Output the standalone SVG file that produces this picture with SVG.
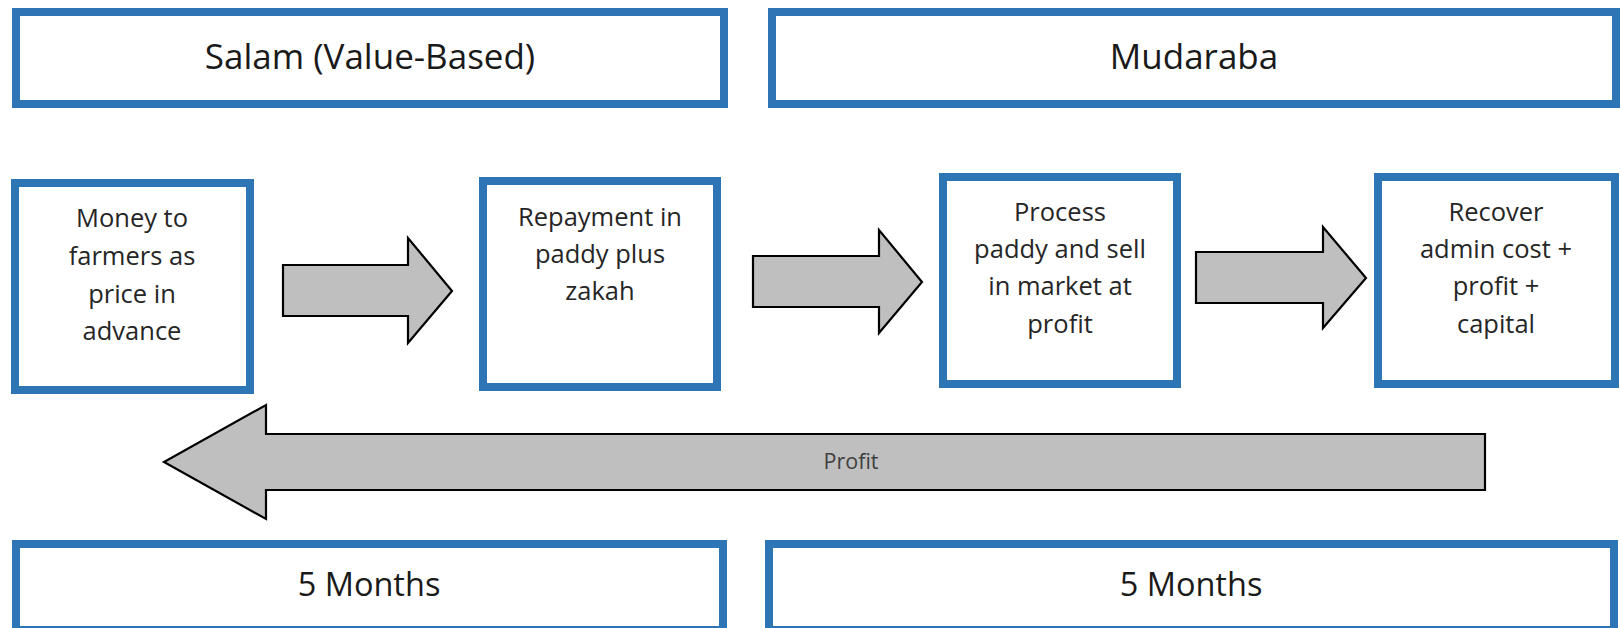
<svg xmlns="http://www.w3.org/2000/svg" width="1621" height="628" viewBox="0 0 1621 628">
<style>
.box{fill:#FFFFFF;stroke:#2E75B6;stroke-width:8}
.arrow{fill:#BFBFBF;stroke:#000000;stroke-width:2.2;stroke-linejoin:miter}
.title{font-family:"Open Sans","Liberation Sans",sans-serif;font-size:35px;fill:#1a1a1a;text-anchor:middle}
.dur{font-family:"Open Sans","Liberation Sans",sans-serif;font-size:32.5px;fill:#1a1a1a;text-anchor:middle}
.step{font-family:"Open Sans","Liberation Sans",sans-serif;font-size:25.5px;fill:#262626;text-anchor:middle}
.lbl{font-family:"Open Sans","Liberation Sans",sans-serif;font-size:21.5px;fill:#404040;text-anchor:middle}
</style>
<rect width="1621" height="628" fill="#FFFFFF"/>
<g id="salam-header">
<rect class="box" x="16" y="12" width="708" height="92"/>
<text class="title" x="370" y="69">Salam (Value-Based)</text>
</g>
<g id="mudaraba-header">
<rect class="box" x="772" y="12" width="844" height="92"/>
<text class="title" x="1194" y="69">Mudaraba</text>
</g>
<g id="step1">
<rect class="box" x="15" y="183" width="235" height="207"/>
<text class="step" x="132" y="227">Money to</text>
<text class="step" x="132" y="265">farmers as</text>
<text class="step" x="132" y="303">price in</text>
<text class="step" x="132" y="340">advance</text>
</g>
<g id="step2">
<rect class="box" x="483" y="181" width="234" height="206"/>
<text class="step" x="600" y="226">Repayment in</text>
<text class="step" x="600" y="263">paddy plus</text>
<text class="step" x="600" y="300">zakah</text>
</g>
<g id="step3">
<rect class="box" x="943" y="177" width="234" height="207"/>
<text class="step" x="1060" y="221">Process</text>
<text class="step" x="1060" y="258">paddy and sell</text>
<text class="step" x="1060" y="295">in market at</text>
<text class="step" x="1060" y="333">profit</text>
</g>
<g id="step4">
<rect class="box" x="1378" y="177" width="237" height="207"/>
<text class="step" x="1496" y="221">Recover</text>
<text class="step" x="1496" y="258">admin cost +</text>
<text class="step" x="1496" y="295">profit +</text>
<text class="step" x="1496" y="333">capital</text>
</g>
<g id="duration-salam">
<rect class="box" x="16" y="544" width="707" height="86"/>
<text class="dur" x="369" y="596">5 Months</text>
</g>
<g id="duration-mudaraba">
<rect class="box" x="769" y="544" width="845" height="86"/>
<text class="dur" x="1191" y="596">5 Months</text>
</g>
<g id="connectors">
<polygon class="arrow" points="283,265 408,265 408,238 452,291 408,343 408,316 283,316"/>
<polygon class="arrow" points="753,256 879,256 879,230 922,282 879,333 879,307 753,307"/>
<polygon class="arrow" points="1196,252 1323,252 1323,227 1366,278 1323,328 1323,303 1196,303"/>
<polygon class="arrow" points="1485,434 266,434 266,405 164,462 266,519 266,490 1485,490"/>
<text class="lbl" x="851" y="469">Profit</text>
</g>
</svg>
